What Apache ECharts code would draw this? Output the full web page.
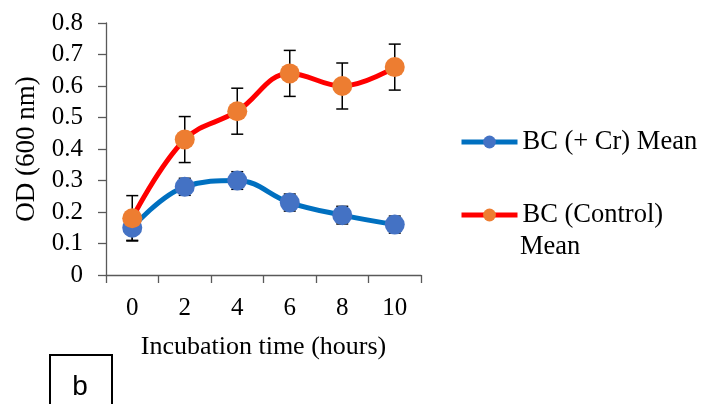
<!DOCTYPE html>
<html>
<head>
<meta charset="utf-8">
<script src="https://cdn.jsdelivr.net/npm/echarts@6/dist/echarts.min.js"></script>
<style>
  html, body { margin: 0; padding: 0; background: #fff; }
  #chart { width: 712px; height: 404px; }
</style>
</head>
<body>
<div id="chart"></div>
<script>
// values
const hours = ['0', '2', '4', '6', '8', '10'];
const crMean = [0.15, 0.28, 0.30, 0.23, 0.19, 0.16];
const crErr = [0.04, 0.027, 0.028, 0.027, 0.028, 0.027];
const ctrlMean = [0.18, 0.43, 0.52, 0.64, 0.60, 0.66];
const ctrlErr = [0.072, 0.073, 0.073, 0.073, 0.073, 0.073];
const yTicks = ['0', '0.1', '0.2', '0.3', '0.4', '0.5', '0.6', '0.7', '0.8'];

const SERIF = '"Liberation Serif", "Times New Roman", serif';
const AXIS_COLOR = '#595959';

function errorBars(name, means, errs) {
  return {
    name: name,
    type: 'custom',
    silent: true,
    z: 1,
    data: means.map((m, i) => [i, m - errs[i], m + errs[i]]),
    renderItem(params, api) {
      const idx = api.value(0);
      const lo = api.coord([idx, api.value(1)]);
      const hi = api.coord([idx, api.value(2)]);
      const half = 6;
      const style = { stroke: '#000', lineWidth: 1.5 };
      return {
        type: 'group',
        children: [
          { type: 'line', shape: { x1: lo[0], y1: lo[1], x2: hi[0], y2: hi[1] }, style },
          { type: 'line', shape: { x1: hi[0] - half, y1: hi[1], x2: hi[0] + half, y2: hi[1] }, style },
          { type: 'line', shape: { x1: lo[0] - half, y1: lo[1], x2: lo[0] + half, y2: lo[1] }, style }
        ]
      };
    }
  };
}

const chart = echarts.init(document.getElementById('chart'));

chart.setOption({
  animation: false,
  textStyle: { fontFamily: SERIF },
  grid: { left: 106, top: 23, width: 315, height: 252 },
  legend: {
    orient: 'vertical',
    left: 454,
    top: 123,
    itemWidth: 56,
    itemHeight: 16,
    itemGap: 45,
    data: ['BC (+ Cr) Mean', 'BC (Control) Mean'],
    formatter: (name) => (name === 'BC (Control) Mean' ? 'BC (Control)' : name),
    lineStyle: { width: 5 },
    textStyle: { fontFamily: SERIF, fontSize: 26.5, color: '#000', lineHeight: 28 }
  },
  graphic: [
    {
      type: 'text',
      x: 520,
      y: 247,
      style: { text: 'Mean', font: '26.5px ' + SERIF, fill: '#000', verticalAlign: 'middle' }
    },
    {
      type: 'rect',
      left: 49,
      top: 354,
      shape: { width: 62, height: 60 },
      style: { fill: '#fff', stroke: '#000', lineWidth: 2 }
    },
    {
      type: 'text',
      x: 80,
      y: 387,
      style: {
        text: 'b',
        font: '28px "Liberation Sans", Arial, sans-serif',
        fill: '#000',
        align: 'center',
        verticalAlign: 'middle'
      }
    }
  ],
  xAxis: {
    type: 'category',
    data: hours,
    boundaryGap: true,
    name: 'Incubation time (hours)',
    nameLocation: 'middle',
    nameGap: 59,
    nameTextStyle: { fontFamily: SERIF, fontSize: 26, color: '#000' },
    axisLine: { lineStyle: { color: AXIS_COLOR, width: 1.3 } },
    axisTick: { show: true, length: 8, lineStyle: { color: AXIS_COLOR, width: 1.3 } },
    axisLabel: { fontFamily: SERIF, fontSize: 25, color: '#000', margin: 21 },
    splitLine: { show: false }
  },
  yAxis: {
    type: 'value',
    min: 0,
    max: 0.8,
    interval: 0.1,
    name: 'OD (600 nm)',
    nameLocation: 'middle',
    nameGap: 66,
    nameTextStyle: { fontFamily: SERIF, fontSize: 27, color: '#000' },
    axisLine: { show: true, lineStyle: { color: AXIS_COLOR, width: 1.3 } },
    axisTick: { show: true, length: 8, lineStyle: { color: AXIS_COLOR, width: 1.3 } },
    axisLabel: {
      fontFamily: SERIF,
      fontSize: 25,
      color: '#000',
      margin: 23,
      formatter: (v) => yTicks[Math.round(v * 10)]
    },
    splitLine: { show: false }
  },
  series: [
    errorBars('crErr', crMean, crErr),
    errorBars('ctrlErr', ctrlMean, ctrlErr),
    {
      name: 'BC (+ Cr) Mean',
      type: 'line',
      data: crMean,
      smooth: 0.4,
      symbol: 'circle',
      symbolSize: 20,
      z: 3,
      lineStyle: { color: '#0070C0', width: 5 },
      itemStyle: { color: '#4472C4' }
    },
    {
      name: 'BC (Control) Mean',
      type: 'line',
      data: ctrlMean,
      smooth: 0.4,
      symbol: 'circle',
      symbolSize: 20,
      z: 4,
      lineStyle: { color: '#FF0000', width: 5 },
      itemStyle: { color: '#ED7D31' }
    }
  ]
});
</script>
</body>
</html>
